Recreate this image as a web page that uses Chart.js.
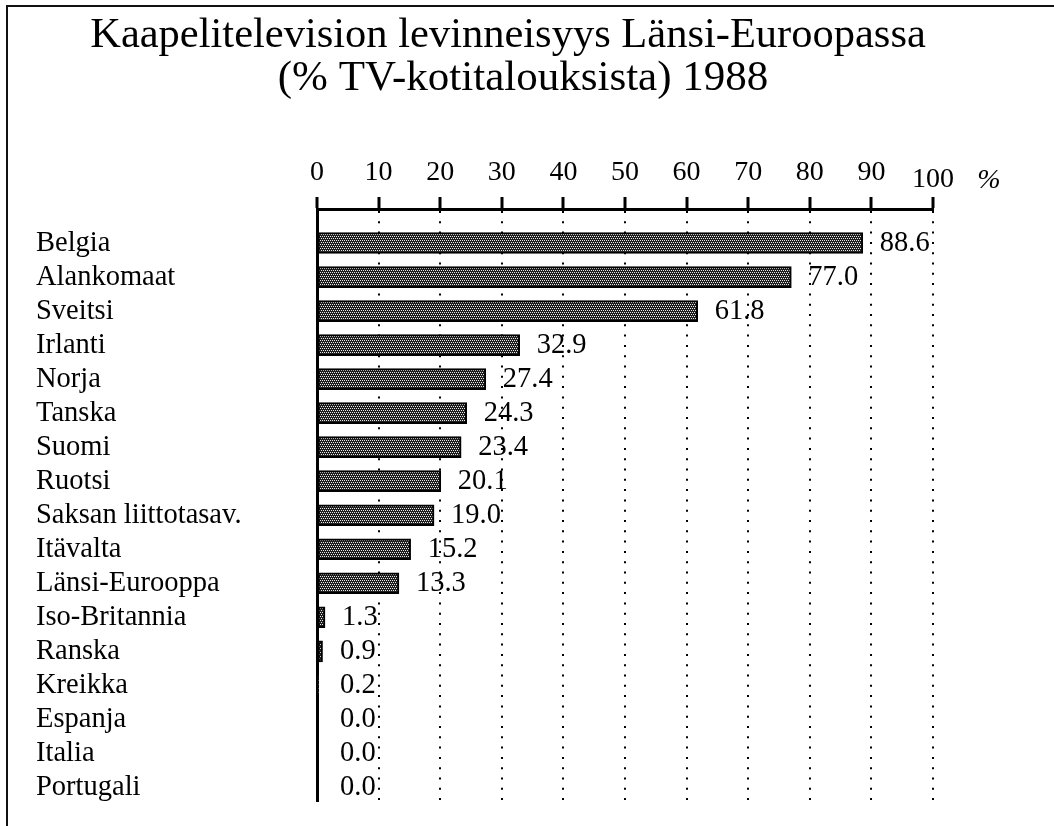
<!DOCTYPE html>
<html>
<head>
<meta charset="utf-8">
<script src="https://cdn.jsdelivr.net/npm/chart.js@4/dist/chart.umd.min.js"></script>
<style>
  html, body { margin: 0; padding: 0; background: #fff; }
  #wrap { width: 1054px; height: 826px; }
</style>
</head>
<body>
<div id="wrap"><canvas id="c" width="1054" height="826"></canvas></div>
<script>
const titleLines = ['Kaapelitelevision levinneisyys Länsi-Euroopassa', '(% TV-kotitalouksista) 1988'];
const categories = ['Belgia', 'Alankomaat', 'Sveitsi', 'Irlanti', 'Norja', 'Tanska', 'Suomi', 'Ruotsi',
  'Saksan liittotasav.', 'Itävalta', 'Länsi-Eurooppa', 'Iso-Britannia', 'Ranska', 'Kreikka',
  'Espanja', 'Italia', 'Portugali'];
const values = [88.6, 77.0, 61.8, 32.9, 27.4, 24.3, 23.4, 20.1, 19.0, 15.2, 13.3, 1.3, 0.9, 0.2, 0.0, 0.0, 0.0];
const xTicks = [0, 10, 20, 30, 40, 50, 60, 70, 80, 90, 100];
const unitLabel = '%';

const SERIF = '"Liberation Serif", "Times New Roman", serif';

// dotted screen pattern for bars
function makePattern() {
  const t = document.createElement('canvas');
  t.width = 4; t.height = 4;
  const g = t.getContext('2d');
  g.fillStyle = '#1e1e1e';
  g.fillRect(0, 0, 4, 4);
  g.fillStyle = '#e8e8e8';
  g.fillRect(0, 0, 1, 1);
  g.fillRect(2, 0, 1, 1);
  g.fillRect(1, 2, 1, 1);
  g.fillRect(3, 2, 1, 1);
  return document.getElementById('c').getContext('2d').createPattern(t, 'repeat');
}

const decor = {
  id: 'decor',
  beforeDraw(chart) {
    const ctx = chart.ctx;
    ctx.save();
    ctx.fillStyle = '#fff';
    ctx.fillRect(0, 0, chart.width, chart.height);
    // page frame (top and left edges)
    ctx.strokeStyle = '#111';
    ctx.lineWidth = 2;
    ctx.beginPath();
    ctx.moveTo(7, chart.height);
    ctx.lineTo(7, 6);
    ctx.lineTo(chart.width, 6);
    ctx.stroke();
    // title
    ctx.fillStyle = '#000';
    ctx.textAlign = 'center';
    ctx.textBaseline = 'alphabetic';
    ctx.font = '42.5px ' + SERIF;
    ctx.fillText(titleLines[0], 508, 47);
    ctx.font = '43px ' + SERIF;
    ctx.fillText(titleLines[1], 523, 90);
    ctx.restore();
  },
  afterDatasetsDraw(chart) {
    const ctx = chart.ctx;
    const xs = chart.scales.x, ys = chart.scales.y;
    ctx.save();
    ctx.fillStyle = '#000';
    ctx.font = '28.5px ' + SERIF;
    ctx.textAlign = 'left';
    ctx.textBaseline = 'middle';
    values.forEach((v, i) => {
      const x = Math.max(xs.getPixelForValue(v) + 17, xs.getPixelForValue(0) + 23);
      ctx.fillText(v.toFixed(1), x, ys.getPixelForValue(i));
    });
    // last tick label (set lower) and unit
    const lastTick = xTicks[xTicks.length - 1];
    ctx.font = '28px ' + SERIF;
    ctx.textAlign = 'center';
    ctx.textBaseline = 'alphabetic';
    ctx.fillText(String(lastTick), xs.getPixelForValue(lastTick), 187);
    ctx.font = 'italic 28px ' + SERIF;
    ctx.fillText(unitLabel, xs.getPixelForValue(lastTick) + 56, 188);
    ctx.restore();
  }
};

new Chart(document.getElementById('c'), {
  type: 'bar',
  data: {
    datasets: [{
      data: values.map((v, i) => ({ x: v, y: i })),
      backgroundColor: makePattern(),
      borderColor: '#000',
      borderWidth: 2,
      borderSkipped: false,
      barThickness: 21
    }]
  },
  options: {
    indexAxis: 'y',
    responsive: false,
    animation: false,
    events: [],
    layout: { padding: { left: 36, right: 121, top: 100, bottom: 25 } },
    plugins: { legend: { display: false }, tooltip: { enabled: false }, title: { display: false } },
    scales: {
      x: {
        type: 'linear',
        position: 'top',
        min: 0,
        max: 100,
        afterBuildTicks: s => { s.ticks = xTicks.map(v => ({ value: v })); },
        afterFit: s => { s.height = 109; },
        ticks: {
          color: '#000',
          font: { family: SERIF, size: 28 },
          padding: 8,
          maxRotation: 0,
          autoSkip: false,
          callback: v => (v === xTicks[xTicks.length - 1] ? '' : String(v))
        },
        grid: {
          color: '#000',
          lineWidth: 2,
          tickLength: 12,
          tickWidth: 3,
          tickColor: '#000',
          tickBorderDash: []
        },
        border: { display: true, color: '#000', width: 3, dash: [2, 8.3] }
      },
      y: {
        type: 'linear',
        reverse: true,
        offset: false,
        min: -1,
        max: 16.4,
        afterBuildTicks: s => { s.ticks = categories.map((c, i) => ({ value: i })); },
        afterFit: s => { s.width = 281; },
        ticks: {
          color: '#000',
          font: { family: SERIF, size: 28.5 },
          crossAlign: 'far',
          autoSkip: false,
          callback: v => categories[v] ?? ''
        },
        grid: { display: false, offset: false },
        border: { display: true, color: '#000', width: 3 }
      }
    }
  },
  plugins: [decor]
});
</script>
</body>
</html>
